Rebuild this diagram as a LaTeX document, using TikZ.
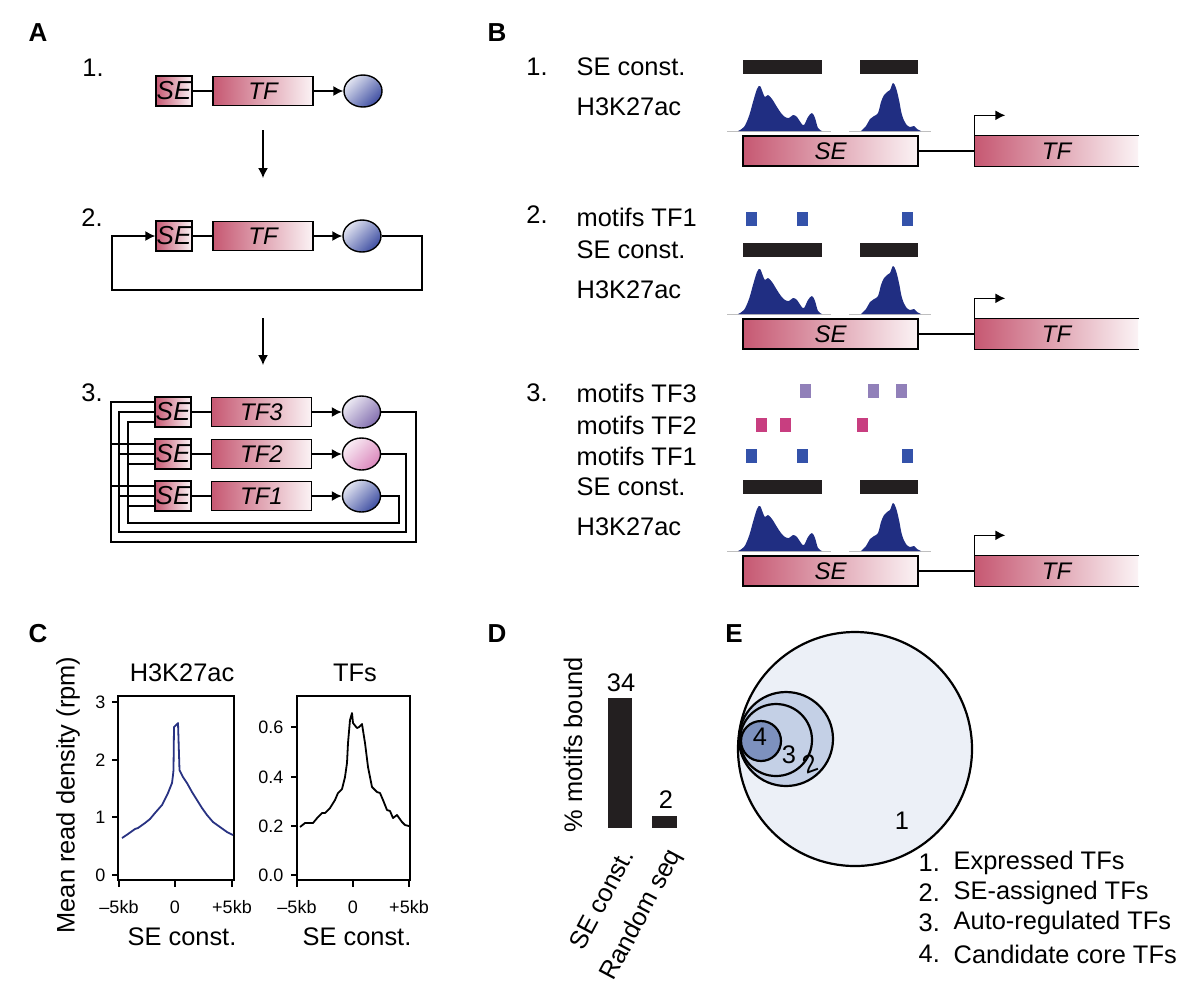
\documentclass[tikz,border=0pt]{standalone}
\usepackage{fontspec}
\setmainfont{Liberation Sans}
\usetikzlibrary{arrows.meta,shapes.geometric}

\definecolor{boxpink}{RGB}{198,88,114}
\definecolor{boxlight}{RGB}{251,243,245}
\definecolor{ellblue}{RGB}{62,78,162}
\definecolor{ellpurple}{RGB}{130,110,175}
\definecolor{ellpink}{RGB}{218,135,188}
\definecolor{peakblue}{RGB}{32,46,130}
\definecolor{mtfone}{RGB}{52,82,170}
\definecolor{mtftwo}{RGB}{200,62,128}
\definecolor{mtfthree}{RGB}{145,128,185}
\definecolor{curveblue}{RGB}{40,50,130}
\definecolor{barblack}{RGB}{35,31,32}
\definecolor{vennone}{RGB}{236,240,247}
\definecolor{venntwo}{RGB}{196,208,230}
\definecolor{vennfour}{RGB}{125,145,190}

\tikzset{
  panel/.style={font=\fontsize{13}{15}\selectfont\bfseries, inner sep=0pt},
  txt/.style={font=\fontsize{12.7}{15}\selectfont, inner sep=0pt},
  ticklbl/.style={font=\fontsize{9}{10}\selectfont, inner sep=0pt},
  gradbox/.style={draw, left color=boxpink, right color=boxlight, inner sep=0pt,
    font=\fontsize{12}{13}\selectfont\itshape},
  sebox/.style={gradbox, font=\fontsize{13}{14}\selectfont\itshape,
    minimum width=18pt, minimum height=15pt},
  tfbox/.style={gradbox, minimum width=50pt, minimum height=14.5pt},
  prot/.style={ellipse, draw, minimum width=19pt, minimum height=16pt, inner sep=0pt,
    top color=white!85!#1, bottom color=#1, shading angle=45},
  arr/.style={-{Latex[length=5pt,width=5pt]}}
}

% one locus of panel B: SE constituents, H3K27ac track, SE and TF boxes
\newcommand\locus[2]{%
  \begin{scope}[shift={(0,#1)}]
    \node[txt, anchor=west] (sc#2) at (576,67) {SE const.};
    \node[txt, anchor=west] (ac#2) at (576,107) {H3K27ac};
    \fill[barblack] (743,60) rectangle (822,74);
    \fill[barblack] (860,60) rectangle (918,74);
    \draw[black!25, line width=0.4pt] (727,131) -- (831,131) (849,131) -- (931,131);
    \fill[peakblue] plot[smooth, tension=0.6] coordinates {(738,131) (744,127) (749,116)
      (753,102) (757,89) (760,86) (763,93) (765,97) (768,95) (772,99) (777,107) (781,113)
      (785,117) (789,118) (793,115) (797,117) (801,123) (804,125) (808,117) (812,113)
      (815,118) (818,128) (822,131)} -- cycle;
    \fill[peakblue] plot[smooth, tension=0.6] coordinates {(861,131) (866,126) (870,119)
      (874,116) (878,113) (881,102) (884,95) (887,92) (890,90) (893,83) (896,88) (899,100)
      (902,115) (906,124) (910,127) (914,126) (917,129) (921,131)} -- cycle;
    \node[gradbox, minimum width=87.5pt, minimum height=15pt] (seB#2) at (830.5,151) {SE};
    \node[gradbox, draw=none, minimum width=81.5pt, minimum height=15pt] (tfB#2) at (1056.5,151) {TF};
    \draw (tfB#2.north east) -- (tfB#2.north west) -- (tfB#2.south west) -- (tfB#2.south east);
    \draw (seB#2) -- (tfB#2);
    \draw[arr] (tfB#2.north west) |- ++(31,-20);
  \end{scope}}

\begin{document}
\begin{tikzpicture}[x=0.5pt, y=-0.5pt, line width=0.7pt]
  \useasboundingbox (0,0) rectangle (1198,998);

  % ---- A ----
  \node[panel] (labA) at (38,33) {A};
  \node[txt] (numA1) at (93,68) {1.};
  \node[sebox] (seA1) at (174,91) {SE};
  \node[tfbox] (tfA1) at (263,91) {TF};
  \node[prot=ellblue] (pA1) at (363,91) {};
  \draw (seA1) -- (tfA1);
  \draw[arr] (tfA1) -- (pA1);
  \coordinate (dnA) at (263,130);
  \coordinate (dnAe) at (263,178);
  \draw[arr] (dnA) -- (dnAe);

  \node[txt] (numA2) at (92,218) {2.};
  \node[sebox] (seA2) at (174,236) {SE};
  \node[tfbox] (tfA2) at (263,236) {TF};
  \node[prot=ellblue] (pA2) at (362,236) {};
  \draw (seA2) -- (tfA2);
  \draw[arr] (tfA2) -- (pA2);
  \draw[arr] (pA2.east) -| (422,290) -| (112,236) -- (seA2.west);
  \coordinate (dnB) at (263,318);
  \coordinate (dnBe) at (263,365);
  \draw[arr] (dnB) -- (dnBe);

  \node[txt] (numA3) at (92,393) {3.};
  \foreach \i/\y/\c in {3/412/ellpurple, 2/454/ellpink, 1/496/ellblue} {
    \node[sebox] (seC\i) at (173,\y) {SE};
    \node[tfbox] (tfC\i) at (261.5,\y) {TF\i};
    \node[prot=\c] (pC\i) at (361.5,\y) {};
    \draw (seC\i) -- (tfC\i);
    \draw[arr] (tfC\i) -- (pC\i);
  }
  % feedback of TF3, TF2, TF1 onto every SE
  \draw (pC3.east) -| (416,542) -| (111,402) -- ([yshift=5pt]seC3.west);
  \draw ([yshift=5pt]seC2.west) -- ++(-44,0);
  \draw ([yshift=5pt]seC1.west) -- ++(-44,0);
  \draw (pC2.east) -| (406,532) -| (119,412) -- (seC3.west);
  \draw (seC2.west) -- ++(-36,0);
  \draw (seC1.west) -- ++(-36,0);
  \draw (pC1.east) -| (399,523) -| (128,422) -- ([yshift=-5pt]seC3.west);
  \draw ([yshift=-5pt]seC2.west) -- ++(-27,0);
  \draw ([yshift=-5pt]seC1.west) -- ++(-27,0);

  % ---- B ----
  \node[panel] (labB) at (497,33) {B};
  \node[txt] (numB1) at (537,67) {1.};
  \locus{0}{1}
  \node[txt] (numB2) at (537,215) {2.};
  \node[txt, anchor=west] (mB2a) at (576,217) {motifs TF1};
  \foreach \x in {746,797,902} \fill[mtfone] (\x,212) rectangle ++(11,14);
  \locus{183}{2}
  \node[txt] (numB3) at (537,393) {3.};
  \node[txt, anchor=west] (mB3c) at (576,393) {motifs TF3};
  \node[txt, anchor=west] (mB3b) at (576,425) {motifs TF2};
  \node[txt, anchor=west] (mB3a) at (576,456) {motifs TF1};
  \foreach \x in {800,868,896} \fill[mtfthree] (\x,384) rectangle ++(11,14);
  \foreach \x in {756,780,857} \fill[mtftwo] (\x,418) rectangle ++(11,14);
  \foreach \x in {746,797,902} \fill[mtfone] (\x,449) rectangle ++(11,14);
  \locus{420}{3}

  % ---- C ----
  \node[panel] (labC) at (38,634) {C};
  \node[txt, rotate=90] (ylabC) at (68,795) {Mean read density (rpm)};
  \node[txt] (tC1) at (182,673) {H3K27ac};
  \node[txt] (tC2) at (355,673) {TFs};
  \draw[line width=0.6pt] (118,696) rectangle (234,880);
  \draw[line width=0.6pt] (297,696) rectangle (410,880);
  \foreach \v/\y in {0/875,1/817,2/760,3/702} {
    \draw[line width=0.6pt] (118,\y) -- (112,\y);
    \node[ticklbl, anchor=east] (yl\v) at (106,\y) {\v};
  }
  \foreach \v/\y in {0.0/875,0.2/826,0.4/777,0.6/727} {
    \draw[line width=0.6pt] (297,\y) -- (291,\y);
    \node[ticklbl, anchor=east] at (284,\y) {\v};
  }
  \foreach \xa/\xb/\l in {119/297/--5kb, 175/353/0, 232/409/+5kb} {
    \draw[line width=0.6pt] (\xa,880) -- (\xa,887);
    \draw[line width=0.6pt] (\xb,880) -- (\xb,887);
    \node[ticklbl] at (\xa,907) {\l};
    \node[ticklbl] at (\xb,907) {\l};
  }
  \node[txt] (xC1) at (182,937) {SE const.};
  \node[txt] (xC2) at (357,937) {SE const.};
  \draw[curveblue, line width=0.9pt, line join=round] plot coordinates {(122,838) (128,834)
    (135,829) (138,828) (145,823) (150,819) (155,813) (162,805) (168,793) (172,783)
    (173,775) (173.5,770) (174,727) (178,723) (179.5,770) (183,777) (187,783) (192,792)
    (197,800) (202,808) (207,815) (213,822) (220,827) (227,832) (233,835)};
  \draw[line width=0.9pt, line join=round] plot coordinates {(300,827) (305,823) (310,823)
    (313,823) (318,817) (322,813) (325,813) (330,808) (335,800) (338,793) (342,789)
    (345,777) (347,763) (348,743) (350,720) (352,713) (353,723) (357,728) (359,727)
    (362,724) (365,743) (368,767) (372,787) (377,792) (380,793) (383,800) (387,810)
    (390,811) (393,818) (397,815) (402,822) (405,825) (409,826)};

  % ---- D ----
  \node[panel] (labD) at (497,634) {D};
  \node[txt, rotate=90] (ylabD) at (573,745) {\% motifs bound};
  \fill[barblack] (608,698) rectangle (632,828);
  \fill[barblack] (652,816) rectangle (677,828);
  \node[txt] (vD1) at (621,683) {34};
  \node[txt] (vD2) at (666,800) {2};
  \node[txt, rotate=62, anchor=east] (xD1) at (627,851) {SE const.};
  \node[txt, rotate=62, anchor=east] (xD2) at (676,851) {Random seq};

  % ---- E ----
  \node[panel] (labE) at (734,634) {E};
  \draw[fill=vennone, line width=1.1pt] (855,749) circle (117);
  \draw[fill=venntwo, line width=1.1pt] (786,739) circle (47);
  \draw[fill=venntwo, line width=1.1pt] (776,740) circle (36);
  \draw[fill=vennfour, line width=1.1pt] (761,741) circle (20);
  \node[txt] (nE4) at (760,737) {4};
  \node[txt] (nE3) at (789,755) {3};
  \node[txt, rotate=20] (nE2) at (810,764) {2};
  \node[txt] (nE1) at (902,821) {1};
  \foreach \n/\t/\y in {1/Expressed TFs/863, 2/SE-assigned TFs/893,
      3/Auto-regulated TFs/923, 4/Candidate core TFs/954} {
    \node[txt, anchor=west] (kE\n) at (918,\y) {\n.};
    \node[txt, anchor=west] (lE\n) at (953,\y) {\t};
  }
\end{tikzpicture}
\end{document}
